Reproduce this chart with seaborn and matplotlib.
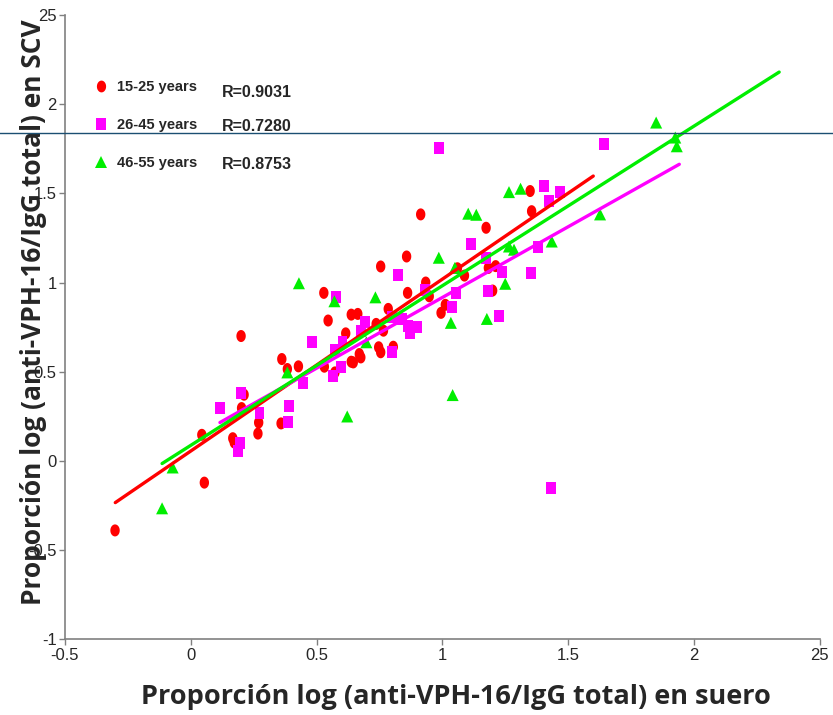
import numpy as np
import pandas as pd
import seaborn as sns
import matplotlib.pyplot as plt
from matplotlib.path import Path
from matplotlib.lines import Line2D

# Points
red_x = [-0.301, 0.054, 0.044, 0.167, 0.173, 0.202, 0.212, 0.200, 0.267, 0.270,
         0.359, 0.362, 0.384, 0.428, 0.531, 0.573, 0.638, 0.646, 0.670, 0.676,
         0.616, 0.546, 0.529, 0.638, 0.664, 0.737, 0.766, 0.785, 0.747, 0.755,
         0.805, 0.755, 0.862, 0.934, 0.948, 0.858, 0.914, 1.012, 0.995, 1.060,
         1.088, 1.174, 1.183, 1.212, 1.200, 1.349, 1.355]
red_y = [-0.390, -0.122, 0.146, 0.127, 0.103, 0.296, 0.371, 0.700, 0.153, 0.215,
         0.210, 0.571, 0.515, 0.530, 0.528, 0.496, 0.556, 0.552, 0.599, 0.580,
         0.715, 0.787, 0.942, 0.820, 0.824, 0.768, 0.730, 0.852, 0.637, 0.609,
         0.640, 1.090, 0.942, 1.000, 0.923, 1.146, 1.382, 0.875, 0.830, 1.080,
         1.039, 1.307, 1.082, 1.092, 0.955, 1.513, 1.400]

mag_x = [0.116, 0.201, 0.196, 0.189, 0.273, 0.391, 0.386, 0.445, 0.483, 0.566,
         0.596, 0.572, 0.603, 0.576, 0.692, 0.676, 0.800, 0.801, 0.839, 0.862,
         0.872, 0.898, 0.824, 0.932, 1.040, 1.055, 0.986, 1.114, 1.174, 1.183,
         1.237, 1.227, 1.351, 1.379, 1.405, 1.423, 1.468, 1.643, 1.431]
mag_y = [0.294, 0.382, 0.099, 0.056, 0.266, 0.305, 0.219, 0.434, 0.665, 0.478,
         0.528, 0.622, 0.665, 0.917, 0.777, 0.730, 0.809, 0.609, 0.796, 0.758,
         0.715, 0.753, 1.040, 0.959, 0.861, 0.944, 1.755, 1.217, 1.139, 0.955,
         1.058, 0.811, 1.052, 1.198, 1.539, 1.457, 1.506, 1.779, -0.150]

green_x = [-0.114, -0.072, 0.384, 0.430, 0.571, 0.622, 0.698, 0.734, 0.986, 1.050,
           1.034, 1.041, 1.103, 1.135, 1.177, 1.250, 1.265, 1.285, 1.265, 1.311,
           1.435, 1.627, 1.850, 1.926, 1.932]
green_y = [-0.266, -0.037, 0.496, 0.996, 0.895, 0.249, 0.665, 0.917, 1.139, 1.082,
           0.774, 0.369, 1.386, 1.380, 0.796, 0.993, 1.202, 1.184, 1.507, 1.526,
           1.230, 1.382, 1.897, 1.813, 1.764]

# trend line end points
red_line_x, red_line_y = [-0.30, 1.60], [-0.234, 1.597]
mag_line_x, mag_line_y = [0.116, 1.942], [0.215, 1.663]
green_line_x, green_line_y = [-0.114, 2.339], [-0.015, 2.180]

groups = ["15-25 years", "26-45 years", "46-55 years"]
r_values = ["R=0.9031", "R=0.7280", "R=0.8753"]
r_pos_y = [2.067, 1.876, 1.663]
ref_line_y = 1.837

colors = {"15-25 years": "#ff0000", "26-45 years": "#ff00ff", "46-55 years": "#00ee00"}

df = pd.concat([
    pd.DataFrame({"x": red_x, "y": red_y, "grupo": groups[0]}),
    pd.DataFrame({"x": mag_x, "y": mag_y, "grupo": groups[1]}),
    pd.DataFrame({"x": green_x, "y": green_y, "grupo": groups[2]}),
])

# tall ellipse and tall rectangle markers
t = np.linspace(0, 2 * np.pi, 40)
ellipse = Path(np.column_stack([0.78 * np.cos(t), np.sin(t)]), closed=True)
rect = Path([(-0.82, -1), (0.82, -1), (0.82, 1), (-0.82, 1), (-0.82, -1)], closed=True)
markers = {groups[0]: ellipse, groups[1]: rect, groups[2]: "^"}

sns.set_style("white")
plt.rcParams["font.family"] = ["Liberation Sans Narrow", "Liberation Sans", "DejaVu Sans"]

fig = plt.figure(figsize=(8.33, 7.15), dpi=100)
ax = fig.add_axes([0.078, 0.106, 0.906, 0.873])

sns.scatterplot(data=df, x="x", y="y", hue="grupo", style="grupo",
                palette=colors, markers=markers, s=75, linewidth=0,
                legend=False, ax=ax, zorder=3)

for lx, ly, g in [(red_line_x, red_line_y, groups[0]),
                  (mag_line_x, mag_line_y, groups[1]),
                  (green_line_x, green_line_y, groups[2])]:
    sns.lineplot(x=lx, y=ly, color=colors[g], linewidth=2.4, ax=ax, zorder=4)

ax.axhline(ref_line_y, xmin=-0.09, xmax=1.02, color="#1b4f72", linewidth=1.0,
           clip_on=False, zorder=5)

ax.set_xlim(-0.5, 2.5)
ax.set_ylim(-1, 2.5)
xt = [-0.5, 0, 0.5, 1, 1.5, 2, 2.5]
yt = [-1, -0.5, 0, 0.5, 1, 1.5, 2, 2.5]
ax.set_xticks(xt)
ax.set_xticklabels(["-0.5", "0", "0.5", "1", "1.5", "2", "25"])
ax.set_yticks(yt)
ax.set_yticklabels(["-1", "-0.5", "0", "0.5", "1", "1.5", "2", "25"])
ax.tick_params(axis="both", direction="out", length=4, width=1, color="#808080",
               labelsize=12, pad=2, left=True, bottom=True)

sns.despine(ax=ax)
for sp in ["left", "bottom"]:
    ax.spines[sp].set_color("#808080")
    ax.spines[sp].set_linewidth(1.2)

ax.set_xlabel("Proporción log (anti-VPH-16/IgG total) en suero",
              family=["Open Sans", "DejaVu Sans"], weight="bold", size=19.5)
ax.set_ylabel("Proporción log (anti-VPH-16/IgG total) en SCV",
              family=["Open Sans", "DejaVu Sans"], weight="bold", size=19)
ax.xaxis.set_label_coords(0.518, -0.072)
ax.yaxis.set_label_coords(-0.024, 0.524)
ax.yaxis.label.set_zorder(10)

handles = [Line2D([], [], linestyle="none", marker=markers[g], color=colors[g],
                  markersize=8.5, markeredgewidth=0) for g in groups]
leg = ax.legend(handles, groups, loc="upper left", bbox_to_anchor=(0.029, 0.907),
                frameon=False, fontsize=10.5, handlelength=0.9, handletextpad=0.7,
                labelspacing=1.62, borderpad=0)
for txt in leg.get_texts():
    txt.set_fontweight("bold")

for r, ry in zip(r_values, r_pos_y):
    ax.text(0.124, ry, r, fontsize=11.5, fontweight="bold", va="center", ha="left")

fig.savefig("out.png", dpi=100)
